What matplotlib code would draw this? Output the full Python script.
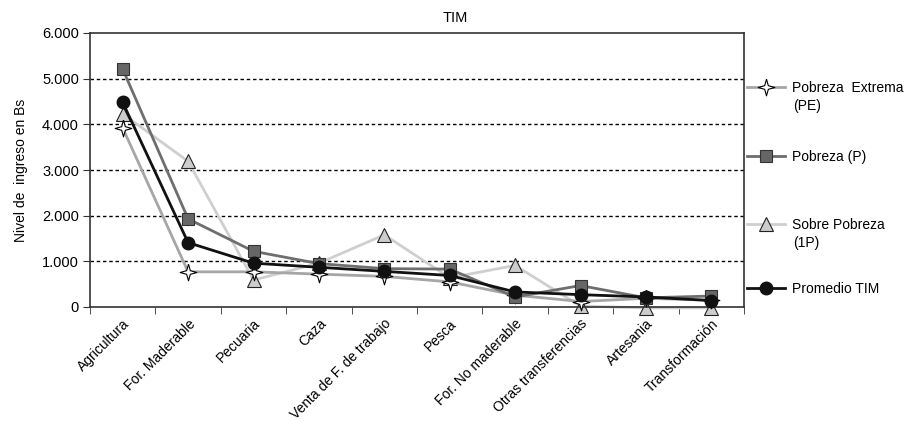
import matplotlib
matplotlib.use("Agg")
import matplotlib.pyplot as plt
from matplotlib.transforms import ScaledTranslation

categories = ["Agricultura", "For. Maderable", "Pecuaria", "Caza", "Venta de F. de trabajo",
              "Pesca", "For. No maderable", "Otras transferencias", "Artesania", "Transformación"]
pobreza_extrema = [3920, 770, 770, 720, 670, 550, 260, 120, 190, 150]
pobreza = [5210, 1930, 1220, 950, 840, 830, 220, 470, 200, 240]
sobre_pobreza = [4230, 3190, 590, 960, 1580, 640, 910, 20, -20, -20]
promedio_tim = [4480, 1410, 960, 870, 780, 690, 330, 270, 220, 140]
yticks = [0, 1000, 2000, 3000, 4000, 5000, 6000]
ytick_labels = ["0", "1.000", "2.000", "3.000", "4.000", "5.000", "6.000"]
legend_first = ["Pobreza  Extrema", "Pobreza (P)", "Sobre Pobreza", "Promedio TIM"]
legend_second = ["(PE)", None, "(1P)", None]

plt.rcParams['font.family'] = ['Liberation Sans', 'DejaVu Sans']

fig = plt.figure(figsize=(9.06, 4.21), dpi=100)
ax = fig.add_axes([90/906, 1-307/421, (744-90)/906, (307-33)/421])

star = [(0, 1), (0.22, 0.22), (1, 0), (0.22, -0.22), (0, -1), (-0.22, -0.22), (-1, 0), (-0.22, 0.22), (0, 1)]

x = list(range(len(categories)))
l1, = ax.plot(x, pobreza_extrema, color="#a6a6a6", lw=2, marker=star, ms=12,
              mfc="white", mec="black", mew=0.8, clip_on=False, zorder=3)
l2, = ax.plot(x, pobreza, color="#6e6e6e", lw=2, marker="s", ms=9, mfc="#666666",
              mec="#333333", mew=0.8, clip_on=False, zorder=4)
l3, = ax.plot(x, sobre_pobreza, color="#cfcfcf", lw=2, marker="^", ms=10, mfc="#cccccc",
              mec="#222222", mew=0.8, clip_on=False, zorder=2)
l4, = ax.plot(x, promedio_tim, color="#111111", lw=2, marker="o", ms=9, mfc="#111111",
              mec="#111111", clip_on=False, zorder=5)

ax.set_xlim(-0.5, len(categories) - 0.5)
ax.set_ylim(0, 6000)
ax.set_yticks(yticks)
ax.set_yticklabels(ytick_labels, fontsize=10.5)
ax.set_xticks(x)
ax.set_xticklabels(categories, rotation=45, ha="right", rotation_mode="anchor", fontsize=10)
offset = ScaledTranslation(6/100, 0, fig.dpi_scale_trans)
for lab in ax.get_xticklabels():
    lab.set_transform(lab.get_transform() + offset)
ax.set_xticks([i - 0.5 for i in range(len(categories) + 1)], minor=True)
ax.tick_params(axis="x", which="major", length=0, pad=7)
ax.tick_params(axis="x", which="minor", length=5, direction="out", color="#333333")
ax.tick_params(axis="y", length=5, direction="out", color="#333333", pad=3)
for yv in yticks[1:-1]:
    ax.axhline(yv, color="black", lw=1, ls=(0, (2.5, 2)), zorder=1)
for s in ax.spines.values():
    s.set_color("#333333")
    s.set_linewidth(1.2)

ax.set_ylabel("Nivel de  ingreso en Bs", fontsize=10, labelpad=10)
fig.text(455/906, 1-18/421, "TIM", fontsize=10.5, ha="center", va="center")

entry_y = [88, 157, 225, 289]
for h, t1, t2, yy in zip([l1, l2, l3, l4], legend_first, legend_second, entry_y):
    fig.legend([h], [t1], loc="center left", bbox_to_anchor=(747/906, 1-yy/421),
               frameon=False, fontsize=10, handlelength=2.7, handletextpad=0.55,
               borderpad=0, borderaxespad=0)
    if t2:
        fig.text(793/906, 1-(yy+18)/421, t2, fontsize=10, ha="left", va="center")

fig.savefig("out.png", dpi=100)
